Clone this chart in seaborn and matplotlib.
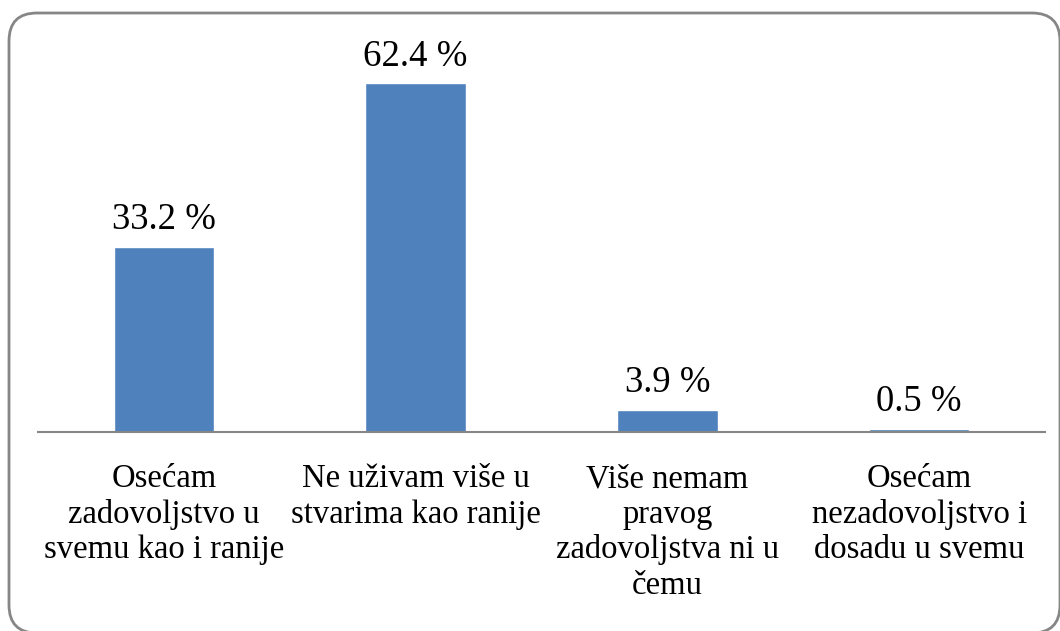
import seaborn as sns
import pandas as pd
import matplotlib.pyplot as plt
from matplotlib.patches import FancyBboxPatch
from matplotlib.transforms import IdentityTransform

categories = [
    "Osećam\nzadovoljstvo u\nsvemu kao i ranije",
    "Ne uživam više u\nstvarima kao ranije",
    "Više nemam\npravog\nzadovoljstva ni u\nčemu",
    "Osećam\nnezadovoljstvo i\ndosadu u svemu",
]
percent = [33.2, 62.4, 3.9, 0.5]

sns.set_style("white")
plt.rcParams['font.family'] = ['Liberation Serif', 'DejaVu Serif']
plt.rcParams['text.color'] = 'black'
plt.rcParams['xtick.color'] = 'black'

df = pd.DataFrame({"category": categories, "percent": percent})

fig = plt.figure(figsize=(10.6, 6.31), dpi=100)
ax = fig.add_axes([38 / 1060, 1 - 432 / 631, 1007 / 1060, 391 / 631])

sns.barplot(data=df, x="category", y="percent", color="#4F81BD", width=0.4,
            saturation=1, ax=ax)
ax.set_ylim(0, 70)
ax.set_xlim(-0.5, 3.5)

for c in ax.containers:
    ax.bar_label(c, fmt="{:.1f} %", padding=7, fontsize=26.5, color="black")

ax.set_xlabel("")
ax.set_ylabel("")
ax.set_yticks([])
ax.tick_params(axis="x", length=0, pad=23, labelsize=23.5, labelcolor="black")
for lbl in ax.get_xticklabels():
    lbl.set_verticalalignment("top")
    lbl.set_linespacing(1.2)
for s in ["top", "right", "left"]:
    ax.spines[s].set_visible(False)
ax.spines["bottom"].set_color("#868686")
ax.spines["bottom"].set_linewidth(1.5)

# rounded outer frame (pixel coordinates)
frame = FancyBboxPatch((9 + 28, -2 + 28), 1051 - 56, 620 - 56,
                       boxstyle="round,pad=28", transform=IdentityTransform(),
                       fill=False, edgecolor="#868686", linewidth=2.0,
                       clip_on=False)
fig.patches.append(frame)

fig.savefig("out.png", dpi=100)
